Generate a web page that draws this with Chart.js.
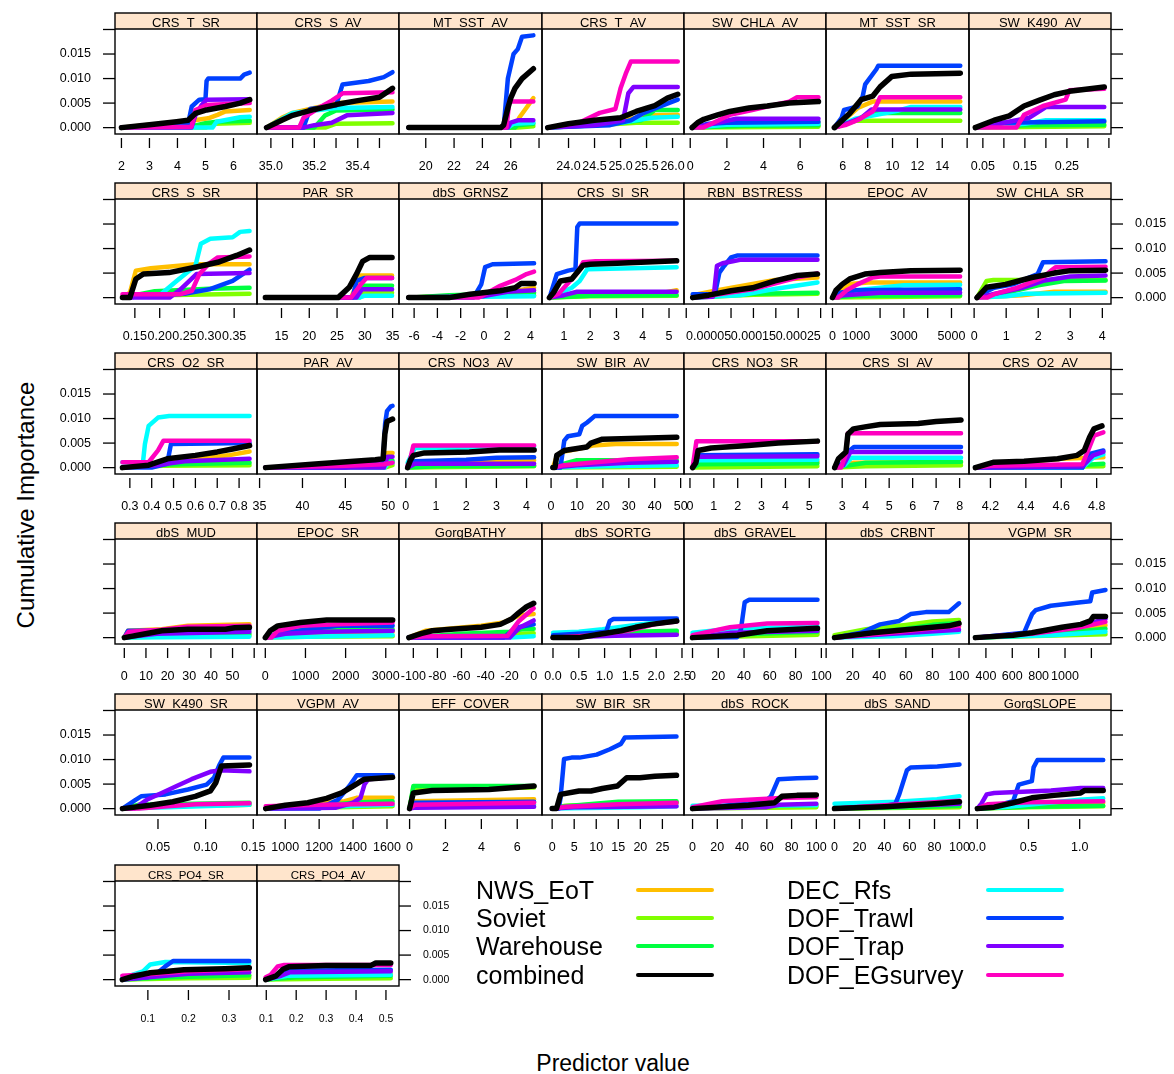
<!DOCTYPE html>
<html>
<head>
<meta charset="utf-8">
<title>Cumulative importance</title>
<script src="https://cdn.jsdelivr.net/npm/chart.js@4.4.1/dist/chart.umd.min.js"></script>
<style>
  body { margin: 0; background: #fff; }
  #page { position: relative; width: 1174px; height: 1074px; overflow: hidden; font-family: "Liberation Sans", Arial, sans-serif; }
  #page canvas { position: absolute; }
  .txt { position: absolute; white-space: nowrap; color: #000; }
  .key { position: absolute; height: 4px; border-radius: 2px; }
</style>
</head>
<body>
<div id="page"></div>
<script>
const surveys = ['NWS_EoT', 'Soviet', 'Warehouse', 'DEC_Rfs', 'DOF_Trawl', 'DOF_Trap', 'DOF_EGsurvey', 'combined'];
const surveyColors = ['#FFBF00', '#80FF00', '#00FF40', '#00FFFF', '#0040FF', '#8000FF', '#FF00BF', '#000000'];

const yTicks = [0, 0.005, 0.01, 0.015, 0.02];
const yTickLabels = ['0.000', '0.005', '0.010', '0.015', ''];

// each panel: one [x, cumulative importance] list per survey, in the order of `surveys`
const crsTSR = [
  [[2,0],[3,.0006],[4,.001],[4.6,.0015],[5.1,.0019],[5.43,.0026],[5.71,.0033],[6.58,.0036]],
  [[2,0],[5,0],[5.3,.0008],[6.58,.001]],
  [[2,0],[4.6,.0004],[5,.0009],[5.4,.0012],[6.58,.0014]],
  [[2,0],[5.25,0],[5.4,.0012],[6.24,.0021],[6.58,.0022]],
  [[2,0],[4.38,.0008],[4.51,.0043],[4.78,.0057],[5,.0058],[5.04,.0095],[5.1,.01],[6.24,.01],[6.38,.0108],[6.58,.0112]],
  [[2,0],[4.5,0],[4.64,.0025],[4.85,.0045],[5.04,.0057],[6.58,.0058]],
  [[2,0],[4.5,.0002],[4.64,.0036],[5.04,.0046],[6.58,.005]],
  [[2,0],[3,.0006],[3.97,.0012],[4.38,.0015],[4.64,.0029],[5.04,.0036],[5.71,.0043],[6.24,.005],[6.58,.0057]]
];
const crsSAV = [
  [[34.98,0],[35.05,.002],[35.1,.003],[35.2,.004],[35.3,.005],[35.56,.0053]],
  [[34.98,0],[35.25,0],[35.3,.0008],[35.56,.0009]],
  [[34.98,0],[35.2,0],[35.25,.0025],[35.3,.0035],[35.56,.0037]],
  [[34.98,0],[35.02,.001],[35.1,.003],[35.3,.004],[35.56,.0042]],
  [[34.98,0],[35.15,0],[35.18,.0038],[35.3,.0045],[35.33,.0088],[35.45,.0095],[35.52,.0103],[35.56,.0113]],
  [[34.98,0],[35.15,0],[35.2,.0005],[35.28,.001],[35.35,.0025],[35.56,.003]],
  [[34.98,0],[35.13,0],[35.15,.002],[35.22,.004],[35.28,.0055],[35.33,.007],[35.56,.0072]],
  [[34.98,0],[35.05,.0015],[35.1,.0025],[35.2,.0037],[35.3,.0047],[35.4,.0055],[35.5,.0062],[35.56,.008]]
];
const mtSstAV = [
  [[18.8,0],[26.3,0],[26.6,.002],[27.1,.004],[27.6,.006]],
  [[18.8,0],[26.5,0],[27.6,.0003]],
  [[18.8,0],[26.3,0],[26.5,.0005],[27.6,.0008]],
  [[18.8,0],[25.8,0],[26.2,.0008],[27.6,.001]],
  [[18.8,0],[25.5,0],[25.8,.01],[26.2,.015],[26.5,.016],[26.8,.0185],[27.6,.0188]],
  [[18.8,0],[25.8,0],[26,.001],[26.5,.0015],[27.6,.0015]],
  [[18.8,0],[25.7,0],[25.9,.0053],[27.6,.0053]],
  [[18.8,0],[25.3,0],[25.5,.0005],[25.8,.004],[26,.006],[26.3,.008],[26.8,.01],[27.6,.012]]
];
const crsTAV = [
  [[23.6,0],[24,.0005],[25,.0015],[25.6,.0025],[26.1,.0026]],
  [[23.6,0],[24.5,.0005],[25.3,.001],[26.1,.001]],
  [[23.6,0],[25,.001],[25.4,.0015],[25.66,.0036],[26.1,.0036]],
  [[23.6,0],[24.5,.0005],[25,.001],[25.6,.002],[26.1,.0022]],
  [[23.6,0],[24.8,.0005],[25.2,.0015],[25.45,.003],[25.8,.0045],[26.1,.0057]],
  [[23.6,0],[24.5,.0005],[25.05,.0015],[25.15,.007],[25.25,.0083],[26.1,.0083]],
  [[23.6,0],[24.2,.001],[24.6,.003],[24.9,.0038],[25,.008],[25.1,.011],[25.2,.0135],[26.1,.0135]],
  [[23.6,0],[24,.0008],[24.5,.0015],[25,.002],[25.3,.0033],[25.66,.0045],[25.9,.006],[26.1,.0068]]
];
const swChlaAV = [
  [[0.1,0],[2,.0005],[4,.0008],[7,.001]],
  [[0.1,0],[7,.0002]],
  [[0.1,0],[3,.0004],[7,.0005]],
  [[0.1,0],[2,.0006],[7,.0008]],
  [[0.1,0],[1,.0008],[2,.001],[7,.0012]],
  [[0.1,0],[1.5,.001],[2.5,.0018],[7,.0018]],
  [[0.1,0],[0.7,0],[1.56,.0015],[2.16,.0026],[3.38,.0036],[4.2,.0043],[5.4,.0053],[5.83,.0062],[7,.0062]],
  [[0.1,0],[0.4,.001],[0.74,.0017],[1.5,.0026],[2.16,.0033],[3.2,.004],[4.2,.0044],[5.4,.005],[7,.0053]]
];
const mtSstSR = [
  [[5.32,0],[6.3,.002],[7.2,.004],[8.4,.0053],[15.45,.0053]],
  [[5.32,0],[7,.0014],[15.45,.0014]],
  [[5.32,0],[7,.0015],[8.3,.003],[15.45,.003]],
  [[5.32,0],[7,.0018],[8.5,.0025],[10.5,.0035],[11.5,.0042],[15.45,.0042]],
  [[5.32,0],[5.9,.002],[6.1,.0036],[7.2,.0043],[7.6,.0064],[7.8,.0088],[8.7,.0119],[8.85,.0126],[15.45,.0126]],
  [[5.32,0],[6.5,.001],[7.5,.002],[8.3,.0037],[15.45,.0037]],
  [[5.32,0],[6.2,.0005],[7.17,.0015],[8.4,.0033],[8.7,.0045],[9,.0062],[15.45,.0062]],
  [[5.32,0],[6.55,.0029],[7.47,.0057],[8.4,.0064],[9,.0083],[9.93,.0104],[11.5,.0109],[15.45,.0111]]
];
const swK490AV = [
  [[.032,0],[.15,.001],[.339,.0011]],
  [[.032,0],[.339,.0003]],
  [[.032,0],[.15,.0005],[.339,.0006]],
  [[.032,0],[.15,.0008],[.2,.0015],[.339,.0015]],
  [[.032,0],[.1,.001],[.339,.0013]],
  [[.032,0],[.1,.001],[.16,.002],[.2,.0042],[.339,.0042]],
  [[.032,0],[.13,0],[.148,.0026],[.193,.0044],[.247,.0057],[.256,.0076],[.339,.0079]],
  [[.032,0],[.077,.0015],[.113,.0024],[.148,.0044],[.185,.0056],[.22,.0067],[.256,.0074],[.339,.0083]]
];
const crsSSR = [
  [[.125,0],[.14,.001],[.152,.0055],[.182,.006],[.272,.0068],[.381,.0068]],
  [[.125,0],[.2,.0005],[.381,.0008]],
  [[.125,0],[.19,.0013],[.3,.0018],[.381,.002]],
  [[.125,0],[.2,.0005],[.234,.0034],[.272,.0065],[.283,.011],[.302,.012],[.347,.0123],[.362,.0134],[.381,.0136]],
  [[.125,0],[.25,.0008],[.3,.0017],[.347,.0034],[.381,.0057]],
  [[.125,0],[.22,0],[.242,.0017],[.274,.0048],[.381,.005]],
  [[.125,.0007],[.242,.0007],[.265,.0014],[.28,.0048],[.3,.007],[.317,.0082],[.381,.0084]],
  [[.125,0],[.14,0],[.152,.0038],[.167,.0048],[.219,.0051],[.272,.0062],[.317,.0072],[.355,.0086],[.381,.0097]]
];
const parSR = [
  [[12.1,0],[27.5,0],[29.3,.0045],[34.9,.0045]],
  [[12.1,0],[29,0],[30,.001],[34.9,.001]],
  [[12.1,0],[28.5,0],[29.5,.0024],[34.9,.0024]],
  [[12.1,0],[29,0],[30,.0004],[34.9,.0004]],
  [[12.1,0],[27.8,0],[28.5,.0034],[30,.004],[34.9,.004]],
  [[12.1,0],[28.5,0],[29.5,.0017],[34.9,.0017]],
  [[12.1,0],[27.5,0],[29.3,.0027],[30.3,.004],[34.9,.004]],
  [[12.1,0],[25.2,0],[27.2,.0021],[28.5,.0048],[29.6,.0074],[30.9,.0082],[34.9,.0082]]
];
const dbsGrnsz = [
  [[-6.47,0],[0,.0005],[3,.0015],[4.31,.002]],
  [[-6.47,0],[1,.0004],[4.31,.0005]],
  [[-6.47,0],[-3,.0005],[4.31,.001]],
  [[-6.47,0],[4.31,.0003]],
  [[-6.47,0],[-0.9,0],[-0.23,.0027],[0.1,.0062],[0.74,.0068],[4.31,.007]],
  [[-6.47,0],[0,.0003],[2,.0012],[4.31,.0015]],
  [[-6.47,0],[-0.5,0],[-0.23,.0003],[1.4,.0024],[2.69,.0036],[3.66,.0048],[4.31,.0053]],
  [[-6.47,0],[-3,0],[-1.2,.0007],[1.4,.0014],[2.69,.002],[3.2,.0029],[4.31,.0029]]
];
const crsSiSR = [
  [[0.45,0],[1.5,.0008],[4.8,.001],[5.29,.0015]],
  [[0.45,0],[2,.0003],[5.29,.0004]],
  [[0.45,0],[2,.0004],[5.29,.0005]],
  [[0.45,0],[0.87,.001],[1.3,.002],[1.6,.0034],[1.89,.0058],[5.29,.0062]],
  [[0.45,0],[0.5,.0008],[0.73,.0048],[1.16,.0055],[1.44,.0058],[1.51,.0144],[1.6,.0151],[5.29,.0151]],
  [[0.45,0],[1,.0005],[1.5,.0012],[5.29,.0012]],
  [[0.45,0],[0.8,.0008],[1,.002],[1.5,.005],[1.73,.0072],[2.2,.0074],[5.29,.0075]],
  [[0.45,0],[0.6,.001],[0.87,.0034],[1.3,.0038],[1.73,.0066],[2,.0068],[3.03,.007],[5.29,.0075]]
];
const rbnBstress = [
  [[.0000144,.0005],[.000064,.0014],[.000198,.0036],[.000293,.0041]],
  [[.0000144,0],[.00015,.0006],[.000293,.0008]],
  [[.0000144,0],[.00015,.0008],[.000293,.001]],
  [[.0000144,0],[.00012,.0005],[.0002,.0018],[.000293,.0031]],
  [[.0000144,.0007],[.000064,.0007],[.000074,.0051],[.000085,.0065],[.0001,.0082],[.000115,.0086],[.000293,.0086]],
  [[.0000144,0],[.00006,.0002],[.000063,.0017],[.0000686,.0065],[.000081,.007],[.000104,.0074],[.00012,.0077],[.000293,.0077]],
  [[.0000144,0],[.00005,.0004],[.000148,.0017],[.000248,.0041],[.000293,.0049]],
  [[.0000144,0],[.00005,.0005],[.0001,.0014],[.000148,.002],[.000198,.0034],[.000248,.0045],[.000293,.0048]]
];
const epocAV = [
  [[0,0],[300,.0015],[700,.0028],[1500,.0031],[5362,.0031]],
  [[0,0],[5362,.0003]],
  [[0,0],[1000,.0004],[5362,.0005]],
  [[0,0],[1000,.0015],[3000,.0025],[5362,.0026]],
  [[0,0],[300,.001],[1000,.0015],[5362,.0017]],
  [[0,0],[500,.0005],[2000,.001],[5362,.001]],
  [[0,0],[243,0],[600,.0015],[1043,.0027],[1685,.0041],[2004,.0043],[5362,.0043]],
  [[0,0],[150,.0015],[404,.0027],[723,.0038],[1362,.0048],[2004,.0051],[3285,.0055],[5362,.0056]]
];
const swChlaSR = [
  [[.09,0],[1.5,.0005],[2.5,.0012],[4.1,.0012]],
  [[.09,0],[.39,.0034],[.6,.0036],[4.1,.0036]],
  [[.09,0],[1,.001],[2,.0025],[2.8,.0034],[4.1,.0035]],
  [[.09,0],[1,.0003],[1.6,.0008],[4.1,.001]],
  [[.09,0],[.3,.001],[.63,.002],[1.21,.0027],[1.98,.0048],[2.15,.0072],[4.1,.0074]],
  [[.09,0],[.8,.001],[1.5,.002],[2.2,.0035],[3,.0043],[4.1,.0045]],
  [[.09,0],[.4,0],[.63,.0007],[1.33,.002],[2.15,.0041],[2.4,.0055],[2.55,.0062],[4.1,.0063]],
  [[.09,0],[.39,.0021],[.98,.0027],[1.8,.0041],[2.5,.005],[3,.0055],[4.1,.0056]]
];
const crsO2SR = [
  [[.266,0],[.45,.001],[.6,.0017],[.75,.0025],[.848,.0033]],
  [[.266,0],[.45,.0004],[.848,.0005]],
  [[.266,0],[.42,.0006],[.848,.001]],
  [[.266,.0011],[.36,.0011],[.369,.0048],[.386,.0085],[.429,.0102],[.48,.0105],[.848,.0105]],
  [[.266,0],[.4,0],[.471,.0008],[.488,.0048],[.848,.005]],
  [[.266,0],[.42,.0005],[.55,.0013],[.848,.0018]],
  [[.266,.0011],[.386,.0011],[.429,.0035],[.454,.0055],[.848,.0055]],
  [[.266,0],[.386,.0005],[.471,.0018],[.6,.0025],[.7,.0032],[.77,.0038],[.848,.0045]]
];
const parAV = [
  [[35.7,0],[49.5,0],[49.9,.003],[50.5,.003]],
  [[35.7,0],[49.6,0],[50.5,.0005]],
  [[35.7,0],[49.5,0],[49.9,.0012],[50.5,.0014]],
  [[35.7,0],[49.6,0],[50,.001],[50.5,.001]],
  [[35.7,0],[45,0],[49.4,.0012],[49.63,.0089],[49.85,.0115],[50.3,.0125],[50.5,.0126]],
  [[35.7,0],[49.5,0],[49.9,.0022],[50.5,.0022]],
  [[35.7,0],[45,.0004],[49.5,.0007],[50.5,.001]],
  [[35.7,0],[41.9,.0008],[48.5,.0016],[49.4,.0018],[49.6,.0068],[49.85,.0094],[50.5,.0099]]
];
const crsNo3AV = [
  [[.06,0],[.5,.001],[4.25,.0015]],
  [[.06,0],[4.25,.0003]],
  [[.06,0],[1,.0003],[4.25,.0004]],
  [[.06,.001],[.3,.004],[4.25,.0042]],
  [[.06,0],[.3,.0013],[2,.0016],[3,.002],[4.25,.0021]],
  [[.06,0],[.3,.0008],[4.25,.0008]],
  [[.06,.0005],[.12,.001],[.25,.0045],[4.25,.0045]],
  [[.06,0],[.15,.0015],[.25,.0025],[.62,.003],[2.1,.0032],[3.1,.0036],[4.25,.0036]]
];
const swBirAV = [
  [[0.7,0],[2,.002],[5,.0033],[12,.004],[16,.0045],[25,.0048],[48.5,.0048]],
  [[0.7,0],[48.5,.0002]],
  [[0.7,0],[5,.0008],[10,.0015],[48.5,.0015]],
  [[0.7,0],[20,.0003],[48.5,.0005]],
  [[0.7,0],[3.6,0],[5.1,.0055],[6.5,.0064],[10.9,.0068],[12,.0085],[13.9,.0092],[16.8,.0105],[48.5,.0105]],
  [[0.7,0],[10,.0005],[30,.001],[48.5,.0012]],
  [[0.7,0],[5,.0005],[15,.001],[30,.0017],[48.5,.0021]],
  [[0.7,0],[1.5,0],[2.2,.0025],[5.1,.0035],[13.8,.0042],[15.4,.005],[19.8,.0058],[48.5,.0062]]
];
const crsNo3SR = [
  [[.11,0],[1.2,.0011],[5.34,.0012]],
  [[.11,0],[5.34,.0003]],
  [[.11,0],[.4,.0007],[5.34,.0009]],
  [[.11,0],[.35,.0015],[5.34,.0016]],
  [[.11,0],[.3,.0025],[5.34,.0027]],
  [[.11,0],[.3,.0022],[5.34,.0023]],
  [[.11,0],[.2,.003],[.27,.0054],[5.34,.0054]],
  [[.11,0],[.25,.001],[.34,.0035],[.89,.004],[2.45,.0045],[3.7,.005],[5.34,.0054]]
];
const crsSiAV = [
  [[2.68,0],[3.5,.001],[8.06,.0011]],
  [[2.68,0],[4,.0003],[8.06,.0005]],
  [[2.68,0],[3.3,.0005],[4,.001],[8.06,.0012]],
  [[2.68,0],[3.1,.0005],[3.4,.002],[8.06,.002]],
  [[2.68,0],[3,.0008],[3.32,.0035],[3.5,.0042],[8.06,.0042]],
  [[2.68,0],[3.05,.0005],[3.35,.0032],[8.06,.0032]],
  [[2.68,0],[2.95,0],[3.16,.0028],[3.24,.007],[8.06,.007]],
  [[2.68,0],[2.84,.0018],[3,.0025],[3.16,.0032],[3.24,.0068],[3.48,.0079],[3.97,.0083],[4.62,.0088],[6.24,.009],[7,.0094],[8.06,.0097]]
];
const crsO2AV = [
  [[4.115,0],[4.2,.0006],[4.4,.0012],[4.6,.0018],[4.838,.0021]],
  [[4.115,0],[4.838,.0003]],
  [[4.115,0],[4.6,.0003],[4.838,.0008]],
  [[4.115,0],[4.72,0],[4.78,.002],[4.838,.0027]],
  [[4.115,0],[4.72,0],[4.76,.0028],[4.838,.0035]],
  [[4.115,0],[4.72,.0003],[4.78,.0025],[4.838,.0032]],
  [[4.115,0],[4.2,.0004],[4.72,.0007],[4.76,.0042],[4.785,.0065],[4.838,.0072]],
  [[4.115,0],[4.22,.0011],[4.39,.0013],[4.58,.0018],[4.69,.0025],[4.73,.0035],[4.76,.0062],[4.785,.0079],[4.83,.0085]]
];
const dbsMud = [
  [[0,0],[1.7,.0014],[17.3,.0017],[29.4,.0024],[57.8,.0027]],
  [[0,0],[30,.0004],[57.8,.0005]],
  [[0,0],[20,.0005],[57.8,.0008]],
  [[0,0],[57.8,.0002]],
  [[0,0],[1.7,.0014],[30,.0015],[57.8,.0017]],
  [[0,0],[15,.0008],[57.8,.0012]],
  [[0,0],[2,.0012],[17,.0016],[29,.0022],[57.8,.0024]],
  [[0,0],[8.6,.0007],[17.3,.0014],[29.4,.0017],[46.7,.0017],[51,.002],[57.8,.0021]]
];
const epocSR = [
  [[0,0],[800,.001],[3172,.0012]],
  [[0,0],[1000,.0002],[3172,.0003]],
  [[0,0],[500,.001],[1000,.0017],[3172,.0017]],
  [[0,0],[3172,.0005]],
  [[0,0],[300,.0008],[1200,.0018],[1800,.0024],[3172,.0024]],
  [[0,0],[500,.0008],[1500,.0012],[3172,.0014]],
  [[0,0],[150,0],[309,.0014],[873,.0024],[1810,.0027],[3172,.0031]],
  [[0,0],[122,.0014],[309,.0024],[873,.0031],[1529,.0036],[3172,.0036]]
];
const gorgBathy = [
  [[-103.7,0],[-90,.0014],[-43.6,.0024],[-25,.0031],[-12,.0045],[0,.0048]],
  [[-103.7,0],[-40,.0005],[0,.0009]],
  [[-103.7,0],[-60,.0008],[-20,.0012],[-10,.0017],[0,.0018]],
  [[-103.7,0],[-20,0],[0,.0003]],
  [[-103.7,0],[-25,0],[-15,.002],[0,.0027]],
  [[-103.7,0],[-20,0],[-12,.002],[0,.0035]],
  [[-103.7,0],[-90,.0003],[-21.6,.0004],[-12.2,.0034],[0,.006]],
  [[-103.7,0],[-93.7,.0008],[-84.3,.0014],[-68.7,.0017],[-43.6,.0021],[-27.8,.0027],[-18.4,.0038],[-12.2,.0051],[-5.9,.0063],[0,.007]]
];
const dbsSortg = [
  [[0,0],[1,.0005],[2.4,.0009]],
  [[0,0],[1.5,.0008],[2.4,.001]],
  [[0,0],[1,.0005],[1.6,.0012],[2.4,.0014]],
  [[0,.001],[.5,.0012],[.96,.0017],[1.98,.0031],[2.4,.0034]],
  [[0,.0005],[.81,.001],[1.03,.0012],[1.1,.0034],[1.17,.0038],[2.4,.0039]],
  [[0,0],[1.2,.0004],[2.4,.0006]],
  [[0,0],[.8,.0005],[1.5,.0015],[2,.0028],[2.4,.0033]],
  [[0,0],[.5,0],[.9,.0007],[1.32,.0014],[1.6,.0021],[1.9,.0027],[2.4,.0034]]
];
const dbsGravel = [
  [[0,0],[40,.0008],[97,.001]],
  [[0,0],[97,.0006]],
  [[0,0],[50,.0008],[97,.0012]],
  [[0,.001],[30,.0018],[97,.0022]],
  [[0,0],[34.7,.0001],[37.6,.0017],[40.5,.0072],[44,.0077],[97,.0077]],
  [[0,0],[30,.001],[97,.0014]],
  [[0,.0005],[29,.0021],[58,.0029],[97,.003]],
  [[0,0],[34.7,.0005],[58,.0014],[81,.0017],[97,.0019]]
];
const dbsCrbnt = [
  [[6.3,0],[40,.001],[100,.0022]],
  [[6.3,.0005],[30,.0017],[60,.0026],[80,.0033],[100,.0036]],
  [[6.3,0],[30,.001],[60,.0018],[80,.0026],[100,.003]],
  [[6.3,0],[50,.0003],[80,.0008],[100,.0012]],
  [[6.3,0],[26.3,.001],[40.6,.0027],[55,.0034],[63.6,.0048],[75,.0052],[92.2,.0052],[100,.007]],
  [[6.3,0],[50,.0008],[100,.0016]],
  [[6.3,0],[40,.0008],[70,.0016],[100,.0024]],
  [[6.3,0],[35,.001],[63.6,.0017],[92.2,.0024],[100,.0029]]
];
const vgpmSR = [
  [[320,0],[600,.0005],[1307,.0025]],
  [[320,0],[1307,.0007]],
  [[320,0],[800,.0005],[1307,.0018]],
  [[320,0],[900,.0005],[1307,.0012]],
  [[320,0],[690,.001],[750,.0048],[777,.0056],[892,.0065],[1120,.0072],[1192,.0074],[1206,.0092],[1307,.0097]],
  [[320,0],[700,.0008],[1000,.002],[1200,.003],[1307,.0038]],
  [[320,0],[750,.0008],[1100,.002],[1307,.0032]],
  [[320,0],[605,.0005],[749,.001],[977,.0021],[1120,.0027],[1192,.0034],[1215,.0043],[1307,.0043]]
];
const swK490SR = [
  [[.0127,0],[.05,.0005],[.146,.0008]],
  [[.0127,0],[.05,.0005],[.146,.0008]],
  [[.0127,0],[.03,.0008],[.146,.0012]],
  [[.0127,0],[.06,.0003],[.146,.0008]],
  [[.0127,0],[.0265,.0018],[.0323,.0025],[.0578,.0029],[.0814,.0039],[.101,.0049],[.1088,.0063],[.1147,.009],[.1186,.0104],[.146,.0104]],
  [[.0127,0],[.025,0],[.0382,.0018],[.0539,.0032],[.0696,.0046],[.0852,.006],[.1049,.0075],[.1147,.0078],[.146,.0076]],
  [[.0127,0],[.03,0],[.06,.0005],[.09,.0009],[.146,.0011]],
  [[.0127,0],[.042,.0007],[.0656,.0014],[.0892,.0025],[.1049,.0036],[.1107,.0053],[.1166,.0087],[.146,.0089]]
];
const vgpmAV = [
  [[885,0],[950,.0005],[1100,.001],[1350,.0015],[1420,.0022],[1633,.0022]],
  [[885,0],[1633,.0005]],
  [[885,0],[1250,.0008],[1450,.0013],[1633,.0015]],
  [[885,0],[1633,.0008]],
  [[885,0],[1200,0],[1311,.0018],[1378,.0046],[1422,.0068],[1633,.0068]],
  [[885,0],[1300,.0002],[1400,.0012],[1444,.0022],[1467,.0049],[1489,.006],[1633,.0064]],
  [[885,.0005],[1200,.0008],[1633,.001]],
  [[885,0],[1000,.0007],[1133,.0012],[1244,.0021],[1333,.0032],[1400,.0046],[1467,.006],[1633,.0064]]
];
const effCover = [
  [[0,0],[.25,.0015],[6.94,.0019]],
  [[0,0],[.2,.004],[6.94,.0043]],
  [[0,0],[.21,.0046],[6.94,.0046]],
  [[0,0],[.3,.0006],[6.94,.0008]],
  [[0,0],[.3,.0012],[6.94,.0014]],
  [[0,0],[.3,.0002],[6.94,.0004]],
  [[0,0],[.3,.0008],[6.94,.0012]],
  [[0,0],[.21,.0032],[1.26,.0037],[4.42,.0039],[6.94,.0046]]
];
const swBirSR = [
  [[0,0],[3,.0005],[28.2,.0011]],
  [[0,0],[3,.0006],[28.2,.0013]],
  [[0,0],[3,.0005],[15,.0014],[28.2,.0015]],
  [[0,0],[20,.0003],[28.2,.0005]],
  [[0,0],[1.5,0],[1.9,.0022],[2.7,.0101],[4.4,.0104],[6.2,.0104],[10.1,.011],[13.1,.0121],[15.6,.0132],[16.5,.0145],[28.2,.0147]],
  [[0,0],[5,.0003],[28.2,.0005]],
  [[0,0],[3,.0004],[15,.0009],[28.2,.0012]],
  [[0,0],[1,0],[1.9,.0029],[6.1,.0036],[8.8,.0036],[11.4,.0041],[14.8,.0046],[16.9,.0063],[19.9,.0063],[23.3,.0066],[28.2,.0068]]
];
const dbsRock = [
  [[0,0],[30,.0003],[100,.0005]],
  [[0,0],[100,.0003]],
  [[0,0],[50,.0005],[100,.0008]],
  [[0,.0006],[100,.0007]],
  [[0,0],[20,.0004],[45,.0012],[60.2,.0018],[63.3,.0025],[69.3,.006],[84.3,.0062],[100,.0063]],
  [[0,0],[60,.0003],[70,.0008],[100,.001]],
  [[0,.0003],[24,.0015],[45,.0018],[75,.0022],[100,.0023]],
  [[0,0],[45.2,.0007],[66.2,.0012],[72.2,.0025],[84.3,.0027],[100,.0028]]
];
const dbsSand = [
  [[0,0],[50,.0003],[100,.0004]],
  [[0,0],[100,.0003]],
  [[0,0],[60,.0003],[100,.0006]],
  [[0,.001],[50,.0014],[82,.0019],[100,.0025]],
  [[0,0],[40,.0005],[48.7,.001],[51.8,.0029],[57.9,.0078],[60.9,.0084],[82.3,.0086],[100,.009]],
  [[0,0],[40,.0004],[100,.001]],
  [[0,0],[20,.0004],[60,.001],[100,.0016]],
  [[0,0],[40,.0004],[60,.0007],[80,.001],[100,.0014]]
];
const gorgSlope = [
  [[0,0],[.3,.0005],[1.23,.0012]],
  [[0,0],[.5,.0003],[1.23,.0005]],
  [[0,0],[.5,.0004],[1.23,.0006]],
  [[0,0],[.3,.0004],[.7,.0012],[1,.0018],[1.23,.0021]],
  [[0,0],[.165,.0005],[.35,.0015],[.405,.0049],[.533,.0056],[.55,.0084],[.588,.0099],[1.23,.0099]],
  [[0,0],[.04,.001],[.092,.0029],[.165,.0032],[.72,.0037],[1.01,.0042],[1.23,.0042]],
  [[0,0],[.1,.0009],[.5,.0013],[1.23,.0015]],
  [[0,0],[.165,.0003],[.35,.0012],[.533,.0022],[.75,.0027],[1.01,.0032],[1.05,.0037],[1.23,.0037]]
];
const crsPo4SR = [
  [[.037,0],[.15,.0005],[.35,.0008]],
  [[.037,0],[.2,.0003],[.35,.0004]],
  [[.037,0],[.15,.0005],[.35,.0009]],
  [[.037,.0003],[.088,.0017],[.106,.0031],[.143,.0036],[.35,.0034]],
  [[.037,0],[.1,.0005],[.124,.0014],[.143,.0027],[.162,.0038],[.35,.0038]],
  [[.037,0],[.1,.0005],[.2,.0012],[.35,.0015]],
  [[.037,.0008],[.12,.0012],[.2,.0017],[.35,.0021]],
  [[.037,0],[.065,.0007],[.106,.0014],[.15,.0017],[.189,.002],[.29,.0022],[.35,.0024]]
];
const crsPo4AV = [
  [[.098,0],[.17,.0008],[.516,.0012]],
  [[.098,0],[.3,.0002],[.516,.0003]],
  [[.098,0],[.2,.0005],[.516,.0008]],
  [[.098,0],[.17,.0008],[.516,.001]],
  [[.098,0],[.14,.0008],[.17,.0018],[.516,.002]],
  [[.098,0],[.15,.0008],[.18,.0015],[.516,.0017]],
  [[.098,.0005],[.115,.001],[.138,.0027],[.16,.003],[.516,.003]],
  [[.098,0],[.131,.0007],[.156,.0021],[.175,.0026],[.299,.0029],[.45,.0029],[.466,.0034],[.516,.0034]]
];

const panelNames = [
  'CRS_T_SR', 'CRS_S_AV', 'MT_SST_AV', 'CRS_T_AV', 'SW_CHLA_AV', 'MT_SST_SR', 'SW_K490_AV',
  'CRS_S_SR', 'PAR_SR', 'dbS_GRNSZ', 'CRS_SI_SR', 'RBN_BSTRESS', 'EPOC_AV', 'SW_CHLA_SR',
  'CRS_O2_SR', 'PAR_AV', 'CRS_NO3_AV', 'SW_BIR_AV', 'CRS_NO3_SR', 'CRS_SI_AV', 'CRS_O2_AV',
  'dbS_MUD', 'EPOC_SR', 'GorgBATHY', 'dbS_SORTG', 'dbS_GRAVEL', 'dbS_CRBNT', 'VGPM_SR',
  'SW_K490_SR', 'VGPM_AV', 'EFF_COVER', 'SW_BIR_SR', 'dbS_ROCK', 'dbS_SAND', 'GorgSLOPE',
  'CRS_PO4_SR', 'CRS_PO4_AV'
];
const panelValues = [
  crsTSR, crsSAV, mtSstAV, crsTAV, swChlaAV, mtSstSR, swK490AV,
  crsSSR, parSR, dbsGrnsz, crsSiSR, rbnBstress, epocAV, swChlaSR,
  crsO2SR, parAV, crsNo3AV, swBirAV, crsNo3SR, crsSiAV, crsO2AV,
  dbsMud, epocSR, gorgBathy, dbsSortg, dbsGravel, dbsCrbnt, vgpmSR,
  swK490SR, vgpmAV, effCover, swBirSR, dbsRock, dbsSand, gorgSlope,
  crsPo4SR, crsPo4AV
];
const panelRanges = [
  [1.77, 6.84], [34.936, 35.59], [18.11, 28.21], [23.49, 26.22], [-0.34, 7.41], [4.65, 16.15], [0.017, 0.355],
  [0.11, 0.396], [10.59, 36.15], [-7.3, 4.99], [0.167, 5.57], [-0.000005, 0.000312], [-272, 5736], [-0.16, 4.27],
  [0.232, 0.882], [34.7, 51.25], [-0.226, 4.51], [-3.5, 51.3], [-0.25, 5.7], [2.31, 8.4], [4.079, 4.881],
  [-4.3, 61.3], [-207, 3330], [-111.9, 6.9], [-0.213, 2.539], [-6.6, 103.6], [-0.1, 107.5], [271.7, 1348.8],
  [0.0049, 0.1539], [833.6, 1670.8], [-0.59, 7.38], [-2.3, 29.9], [-6.9, 107.8], [-6.8, 107.6], [-0.081, 1.306],
  [0.019, 0.369], [0.069, 0.5436]
];
const panelTicks = [
  [2, 3, 4, 5, 6], [35, 35.1, 35.2, 35.3, 35.4, 35.5], [20, 22, 24, 26, 28], [24, 24.5, 25, 25.5, 26],
  [0, 2, 4, 6], [6, 8, 10, 12, 14, 16], [0.05, 0.1, 0.15, 0.2, 0.25, 0.3, 0.35],
  [0.15, 0.2, 0.25, 0.3, 0.35], [15, 20, 25, 30, 35], [-6, -4, -2, 0, 2, 4], [1, 2, 3, 4, 5],
  [0, 0.00005, 0.0001, 0.00015, 0.0002, 0.00025, 0.0003], [0, 1000, 2000, 3000, 4000, 5000], [0, 1, 2, 3, 4],
  [0.3, 0.4, 0.5, 0.6, 0.7, 0.8], [35, 40, 45, 50], [0, 1, 2, 3, 4], [0, 10, 20, 30, 40, 50],
  [0, 1, 2, 3, 4, 5], [3, 4, 5, 6, 7, 8], [4.2, 4.4, 4.6, 4.8],
  [0, 10, 20, 30, 40, 50, 60], [0, 1000, 2000, 3000], [-100, -80, -60, -40, -20, 0], [0, 0.5, 1, 1.5, 2, 2.5],
  [0, 20, 40, 60, 80, 100], [0, 20, 40, 60, 80, 100], [400, 600, 800, 1000, 1200],
  [0.05, 0.1, 0.15], [1000, 1200, 1400, 1600], [0, 2, 4, 6], [0, 5, 10, 15, 20, 25],
  [0, 20, 40, 60, 80, 100], [0, 20, 40, 60, 80, 100], [0, 0.5, 1],
  [0.1, 0.2, 0.3], [0.1, 0.2, 0.3, 0.4, 0.5]
];
const panelTickLabels = [
  ['2', '3', '4', '5', '6'], ['35.0', '', '35.2', '', '35.4', ''], ['20', '22', '24', '26', ''], ['24.0', '24.5', '25.0', '25.5', '26.0'],
  ['0', '2', '4', '6'], ['6', '8', '10', '12', '14', ''], ['0.05', '', '0.15', '', '0.25', '', ''],
  ['0.15', '0.20', '0.25', '0.30', '0.35'], ['15', '20', '25', '30', '35'], ['-6', '-4', '-2', '0', '2', '4'], ['1', '2', '3', '4', '5'],
  ['', '0.00005', '', '0.00015', '', '0.00025', ''], ['0', '1000', '', '3000', '', '5000'], ['0', '1', '2', '3', '4'],
  ['0.3', '0.4', '0.5', '0.6', '0.7', '0.8'], ['35', '40', '45', '50'], ['0', '1', '2', '3', '4'], ['0', '10', '20', '30', '40', '50'],
  ['0', '1', '2', '3', '4', '5'], ['3', '4', '5', '6', '7', '8'], ['4.2', '4.4', '4.6', '4.8'],
  ['0', '10', '20', '30', '40', '50', ''], ['0', '1000', '2000', '3000'], ['-100', '-80', '-60', '-40', '-20', '0'], ['0.0', '0.5', '1.0', '1.5', '2.0', '2.5'],
  ['0', '20', '40', '60', '80', '100'], ['', '20', '40', '60', '80', '100'], ['400', '600', '800', '1000', ''],
  ['0.05', '0.10', '0.15'], ['1000', '1200', '1400', '1600'], ['0', '2', '4', '6'], ['0', '5', '10', '15', '20', '25'],
  ['0', '20', '40', '60', '80', '100'], ['0', '20', '40', '60', '80', '100'], ['0.0', '0.5', '1.0'],
  ['0.1', '0.2', '0.3'], ['0.1', '0.2', '0.3', '0.4', '0.5']
];

const page = document.getElementById('page');
const colX = [115, 257, 399, 542, 684, 826, 969, 1111];
const rowY = [13, 183, 353, 523, 694, 865];
const STRIP = 16, PLOT = 105, SIDE = 70, BELOW = 50;
const FONT = '"Liberation Sans", Arial, sans-serif';

function panelDecor(p) {
  return {
    id: 'panelDecor',
    afterDraw(chart) {
      const { ctx, chartArea: a, scales } = chart;
      const w = a.right - a.left;
      const top = a.top - STRIP;
      const small = p.row === 5;
      ctx.save();
      ctx.fillStyle = '#FFE5CC';
      ctx.fillRect(a.left, top, w, STRIP);
      ctx.save();
      ctx.beginPath();
      ctx.rect(a.left, top, w, STRIP);
      ctx.clip();
      ctx.fillStyle = '#000';
      ctx.font = (small ? 11.5 : 13) + 'px ' + FONT;
      ctx.textAlign = 'center';
      ctx.textBaseline = 'alphabetic';
      ctx.fillText(p.name, a.left + w / 2, a.top - 2.5);
      ctx.restore();

      ctx.strokeStyle = '#000';
      ctx.lineWidth = 1.4;
      ctx.strokeRect(a.left, top, w, a.bottom - top);
      ctx.beginPath();
      ctx.moveTo(a.left, a.top);
      ctx.lineTo(a.right, a.top);
      ctx.stroke();

      ctx.lineWidth = 1.3;
      ctx.fillStyle = '#000';
      ctx.font = (small ? 10.5 : 12.5) + 'px ' + FONT;
      ctx.textAlign = 'center';
      ctx.textBaseline = 'middle';
      p.ticks.forEach((t, k) => {
        const px = scales.x.getPixelForValue(t);
        if (px < a.left - 1 || px > a.right + 1) return;
        ctx.beginPath();
        ctx.moveTo(px, a.bottom + 4);
        ctx.lineTo(px, a.bottom + 14);
        ctx.stroke();
        if (p.labels[k]) ctx.fillText(p.labels[k], px, a.bottom + 33);
      });

      yTicks.forEach((v, k) => {
        const py = scales.y.getPixelForValue(v);
        if (p.col === 0) {
          ctx.beginPath();
          ctx.moveTo(a.left - 12, py);
          ctx.lineTo(a.left, py);
          ctx.stroke();
          if (p.row % 2 === 0) {
            ctx.textAlign = 'right';
            ctx.fillText(yTickLabels[k], a.left - 24, py);
          }
        }
        if (p.last) {
          ctx.beginPath();
          ctx.moveTo(a.right, py);
          ctx.lineTo(a.right + 12, py);
          ctx.stroke();
          if (p.row % 2 === 1) {
            ctx.textAlign = 'left';
            ctx.fillText(yTickLabels[k], a.right + 24, py);
          }
        }
      });
      ctx.restore();
    }
  };
}

panelNames.forEach((name, i) => {
  const row = i < 35 ? Math.floor(i / 7) : 5;
  const col = i < 35 ? i % 7 : i - 35;
  const last = i < 35 ? col === 6 : col === 1;
  const w = colX[col + 1] - colX[col];
  const canvas = document.createElement('canvas');
  canvas.width = w + 2 * SIDE;
  canvas.height = STRIP + PLOT + BELOW + 2;
  canvas.style.left = (colX[col] - SIDE) + 'px';
  canvas.style.top = (rowY[row] - 2) + 'px';
  page.appendChild(canvas);

  new Chart(canvas, {
    type: 'line',
    data: {
      datasets: panelValues[i].map((pts, s) => ({
        label: surveys[s],
        data: pts,
        borderColor: surveyColors[s],
        borderWidth: s === 7 ? 5.5 : 4.5,
        pointRadius: 0,
        tension: 0,
        borderJoinStyle: 'round',
        borderCapStyle: 'round',
        order: 7 - s
      }))
    },
    options: {
      responsive: false,
      animation: false,
      events: [],
      layout: { padding: { left: SIDE, right: SIDE, top: STRIP + 2, bottom: BELOW } },
      plugins: { legend: { display: false }, tooltip: { enabled: false } },
      scales: {
        x: { type: 'linear', min: panelRanges[i][0], max: panelRanges[i][1], display: false },
        y: { type: 'linear', min: -0.0013, max: 0.0201, display: false }
      }
    },
    plugins: [panelDecor({ name, row, col, last, ticks: panelTicks[i], labels: panelTickLabels[i] })]
  });
});

function addText(text, left, top, size, extra) {
  const d = document.createElement('div');
  d.className = 'txt';
  d.textContent = text;
  d.style.left = left + 'px';
  d.style.top = top + 'px';
  d.style.fontSize = size + 'px';
  d.style.lineHeight = Math.round(size * 1.12) + 'px';
  if (extra) Object.assign(d.style, extra);
  page.appendChild(d);
}

const keyRows = [890, 918, 946, 975];
const keyColumns = [
  { items: [0, 1, 2, 7], textX: 476, lineX: 636 },
  { items: [3, 4, 5, 6], textX: 787, lineX: 986 }
];
keyColumns.forEach(c => {
  c.items.forEach((s, k) => {
    addText(surveys[s], c.textX, keyRows[k] - 14, 25);
    const line = document.createElement('div');
    line.className = 'key';
    line.style.left = c.lineX + 'px';
    line.style.top = (keyRows[k] - 2) + 'px';
    line.style.width = '78px';
    line.style.background = surveyColors[s];
    page.appendChild(line);
  });
});

addText('Predictor value', 613, 1050, 23, { transform: 'translateX(-50%)' });
addText('Cumulative Importance', 25, 505, 24, { transform: 'translate(-50%, -50%) rotate(-90deg)' });
</script>
</body>
</html>
